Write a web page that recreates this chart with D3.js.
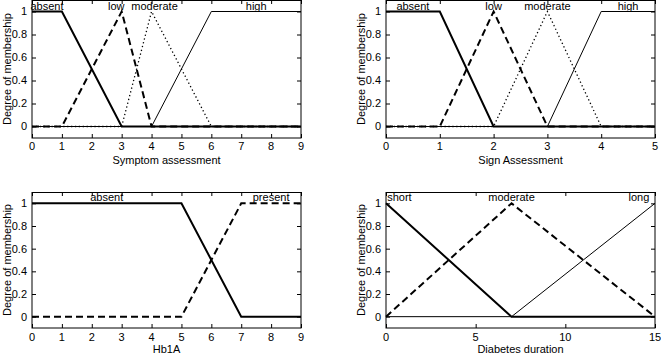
<!DOCTYPE html>
<html>
<head>
<meta charset="utf-8">
<script src="https://cdn.jsdelivr.net/npm/d3@7"></script>
<style>
  html, body { margin: 0; padding: 0; background: #fff; }
  svg { display: block; font-family: "Liberation Sans", Arial, sans-serif; }
</style>
</head>
<body>
<div id="chart"></div>
<script>
// membership function vertices [x, degree]
const symptomAbsent   = [[0, 1], [1, 1], [3, 0], [9, 0]];
const symptomLow      = [[0, 0], [1, 0], [3, 1], [4, 0], [9, 0]];
const symptomModerate = [[0, 0], [3, 0], [4, 1], [6, 0], [9, 0]];
const symptomHigh     = [[0, 0], [4, 0], [6, 1], [9, 1]];

const signAbsent   = [[0, 1], [1, 1], [2, 0], [5, 0]];
const signLow      = [[0, 0], [1, 0], [2, 1], [3, 0], [5, 0]];
const signModerate = [[0, 0], [2, 0], [3, 1], [4, 0], [5, 0]];
const signHigh     = [[0, 0], [3, 0], [4, 1], [5, 1]];

const hbAbsent  = [[0, 1], [5, 1], [7, 0], [9, 0]];
const hbPresent = [[0, 0], [5, 0], [7, 1], [9, 1]];

const durShort    = [[0, 1], [7, 0], [15, 0]];
const durModerate = [[0, 0], [7, 1], [15, 0]];
const durLong     = [[0, 0], [7, 0], [15, 1]];

const yTicks = [0, 0.2, 0.4, 0.6, 0.8, 1];
const ticks9 = [0, 1, 2, 3, 4, 5, 6, 7, 8, 9];
const ticks5 = [0, 1, 2, 3, 4, 5];
const ticks15 = [0, 5, 10, 15];

const styles = {
  thick:  { w: 2,   dash: null },
  dashed: { w: 2,   dash: "7,4" },
  dotted: { w: 1.3, dash: "1.3,2.6" },
  thin:   { w: 1,   dash: null }
};

const panels = [
  { x0: 32, x1: 301, y0: 0, y1: 138, domain: [0, 9], ticks: ticks9,
    xLabel: "Symptom assessment", xLabelY: 164, tickY: 150, yLabelX: 7,
    series: [
      { name: "high", pts: symptomHigh, style: "thin", lx: 7.5 },
      { name: "moderate", pts: symptomModerate, style: "dotted", lx: 4.1 },
      { name: "low", pts: symptomLow, style: "dashed", lx: 2.82 },
      { name: "absent", pts: symptomAbsent, style: "thick", lx: 0.5 }
    ] },
  { x0: 386, x1: 655, y0: 0, y1: 138, domain: [0, 5], ticks: ticks5,
    xLabel: "Sign Assessment", xLabelY: 164, tickY: 150, yLabelX: 361,
    series: [
      { name: "high", pts: signHigh, style: "thin", lx: 4.5 },
      { name: "moderate", pts: signModerate, style: "dotted", lx: 3 },
      { name: "low", pts: signLow, style: "dashed", lx: 2 },
      { name: "absent", pts: signAbsent, style: "thick", lx: 0.5 }
    ] },
  { x0: 32, x1: 301, y0: 192, y1: 328, domain: [0, 9], ticks: ticks9,
    xLabel: "Hb1A", xLabelY: 353, tickY: 341, yLabelX: 7,
    series: [
      { name: "present", pts: hbPresent, style: "dashed", lx: 8 },
      { name: "absent", pts: hbAbsent, style: "thick", lx: 2.5 }
    ] },
  { x0: 386, x1: 655, y0: 192, y1: 328, domain: [0, 15], ticks: ticks15,
    xLabel: "Diabetes duration", xLabelY: 353, tickY: 341, yLabelX: 361,
    series: [
      { name: "long", pts: durLong, style: "thin", lx: 14.1 },
      { name: "moderate", pts: durModerate, style: "dashed", lx: 7 },
      { name: "short", pts: durShort, style: "thick", lx: 0.75 }
    ] }
];

const svg = d3.select("#chart").append("svg")
  .attr("width", 661).attr("height", 356);

panels.forEach(p => {
  const x = d3.scaleLinear().domain(p.domain).range([p.x0, p.x1]);
  const y = d3.scaleLinear().domain([-0.1, 1.1]).range([p.y1, p.y0]);
  const g = svg.append("g");
  const tl = 4;

  // ticks, inward on all sides
  g.append("g").attr("transform", `translate(0,${p.y1})`)
    .call(d3.axisBottom(x).tickValues(p.ticks).tickSize(-tl).tickFormat(""))
    .call(a => a.select(".domain").remove());
  g.append("g").attr("transform", `translate(0,${p.y0})`)
    .call(d3.axisTop(x).tickValues(p.ticks).tickSize(-tl).tickFormat(""))
    .call(a => a.select(".domain").remove());
  g.append("g").attr("transform", `translate(${p.x0},0)`)
    .call(d3.axisLeft(y).tickValues(yTicks).tickSize(-tl).tickFormat(""))
    .call(a => a.select(".domain").remove());
  g.append("g").attr("transform", `translate(${p.x1},0)`)
    .call(d3.axisRight(y).tickValues(yTicks).tickSize(-tl).tickFormat(""))
    .call(a => a.select(".domain").remove());
  g.selectAll(".tick line").attr("stroke", "#000").attr("stroke-width", 1);

  // tick labels
  g.selectAll(".xl").data(p.ticks).join("text")
    .attr("x", d => x(d)).attr("y", p.tickY)
    .attr("text-anchor", "middle").attr("font-size", 11).text(d => d);
  g.selectAll(".yl").data(yTicks).join("text")
    .attr("x", p.x0 - 5).attr("y", d => y(d)).attr("dy", "0.35em")
    .attr("text-anchor", "end").attr("font-size", 11).text(d => d);

  // axis titles
  g.append("text").attr("x", (p.x0 + p.x1) / 2).attr("y", p.xLabelY)
    .attr("text-anchor", "middle").attr("font-size", 11).text(p.xLabel);
  g.append("text")
    .attr("transform", `translate(${p.yLabelX},${(p.y0 + p.y1) / 2}) rotate(-90)`)
    .attr("text-anchor", "middle").attr("dy", "0.35em").attr("font-size", 11)
    .text("Degree of membership");

  const line = d3.line().x(d => x(d[0])).y(d => y(d[1]));
  p.series.forEach(s => {
    const st = styles[s.style];
    g.append("path").datum(s.pts).attr("d", line)
      .attr("fill", "none").attr("stroke", "#000")
      .attr("stroke-width", st.w)
      .attr("stroke-dasharray", st.dash);
  });
  p.series.forEach(s => {
    g.append("text").attr("x", x(s.lx)).attr("y", y(1) - 2)
      .attr("text-anchor", "middle").attr("font-size", 11).text(s.name);
  });

  // frame
  g.append("rect").attr("x", p.x0).attr("y", p.y0 + 0.5)
    .attr("width", p.x1 - p.x0).attr("height", p.y1 - p.y0 - 0.5)
    .attr("fill", "none").attr("stroke", "#000").attr("stroke-width", 1);
});
</script>
</body>
</html>
